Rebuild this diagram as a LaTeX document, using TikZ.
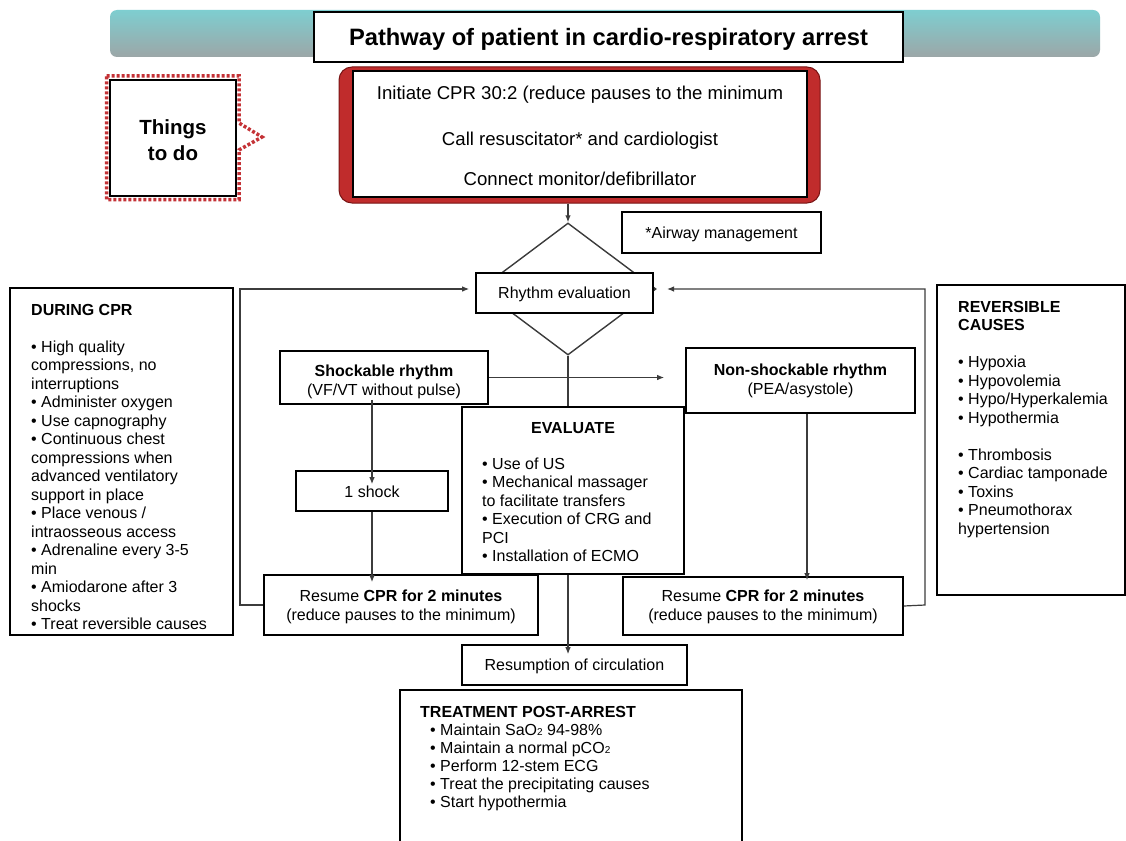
\documentclass[tikz,border=0pt]{standalone}
\usepackage{fontspec}
\setmainfont{Liberation Sans}
\usetikzlibrary{arrows.meta,shapes.geometric}
\definecolor{redbox}{RGB}{192,44,44}
\definecolor{reddark}{RGB}{120,20,20}
\definecolor{tealtop}{RGB}{126,206,208}
\definecolor{graybot}{RGB}{156,166,167}
\definecolor{linec}{RGB}{60,60,60}
\definecolor{dotred}{RGB}{196,50,54}
\begin{document}
\begin{tikzpicture}[x=1pt,y=-1pt,
  box/.style={draw=black,line width=1.6pt,fill=white,rectangle,inner sep=0pt},
  conn/.style={draw=linec,line width=1.2pt},
  arr/.style={conn,-{Latex[length=7pt,width=5.5pt]}},
  txt/.style={inner sep=0pt,font=\fontsize{16}{18.5}\selectfont},
  btxt/.style={inner sep=0pt,font=\fontsize{16}{18.5}\selectfont\bfseries},
]
\useasboundingbox (0,0) rectangle (1126,840);
\fill[white] (0,0) rectangle (1126,840);

% banner
\shade[top color=tealtop,bottom color=graybot,rounded corners=7pt] (110,10) rectangle (1100,57);
\node[box,minimum width=589,minimum height=50] (title) at (608.5,37) {};
\node[inner sep=0pt,anchor=base,font=\fontsize{23.7}{26}\selectfont\bfseries] (ttitle) at (608.5,46) {Pathway of patient in cardio-respiratory arrest};

% things to do
\draw[dotred,line width=3.5pt,dash pattern=on 3pt off 2pt] (106.5,76) -- (239,76) -- (239,123) -- (262,137) -- (239,150) -- (239,199.5) -- (106.5,199.5) -- cycle;
\node[box,minimum width=126,minimum height=116] (things) at (173,138) {};
\node[inner sep=0pt,anchor=base,align=center,font=\fontsize{20.5}{25}\selectfont\bfseries] (tthings) at (173,160) {Things\\to do};

% red box
\node[draw=reddark,line width=1pt,fill=redbox,rounded corners=13pt,minimum width=481,minimum height=136,inner sep=0pt] (red) at (579.5,135) {};
\node[box,minimum width=454,minimum height=126] (todo) at (580,134) {};
\node[inner sep=0pt,anchor=base,font=\fontsize{18.6}{20}\selectfont] (l1) at (580,100) {Initiate CPR 30:2 (reduce pauses to the minimum};
\node[inner sep=0pt,anchor=base,font=\fontsize{18.6}{20}\selectfont] (l2) at (580,145) {Call resuscitator* and cardiologist};
\node[inner sep=0pt,anchor=base,font=\fontsize{18.6}{20}\selectfont] (l3) at (580,185) {Connect monitor/defibrillator};

% airway
\node[box,minimum width=199,minimum height=41] (airway) at (721.5,232.5) {};
\node[txt,anchor=base] (tairway) at (721.5,238) {*Airway management};

% diamond + rhythm evaluation
\node[draw=linec,line width=1.4pt,diamond,minimum width=176,minimum height=132,inner sep=0pt] (diam) at (568,289) {};
\node[box,minimum width=177,minimum height=40] (rhythm) at (564.5,293) {};
\node[txt,anchor=base] (trhythm) at (564.5,298) {Rhythm evaluation};
\draw[arr] (red.south -| diam.north) -- (diam.north);

% during CPR
\node[box,minimum width=223,minimum height=347] (during) at (121.5,461.5) {};
\node[txt,anchor=base west,align=left] (tduring) at (31,629.5) {\textbf{DURING CPR}\\[18.5pt]%
• High quality\\compressions, no\\interruptions\\• Administer oxygen\\• Use capnography\\• Continuous chest\\compressions when\\advanced ventilatory\\support in place\\• Place venous /\\intraosseous access\\• Adrenaline every 3-5\\min\\• Amiodarone after 3\\shocks\\• Treat reversible causes};

% reversible causes
\node[box,minimum width=188,minimum height=310] (rev) at (1031,440) {};
\node[txt,anchor=base west,align=left] (trev) at (958,534) {\textbf{REVERSIBLE}\\\textbf{CAUSES}\\[18.5pt]%
• Hypoxia\\• Hypovolemia\\• Hypo/Hyperkalemia\\• Hypothermia\\[18.5pt]• Thrombosis\\• Cardiac tamponade\\• Toxins\\• Pneumothorax\\hypertension};

% shockable / non-shockable
\node[box,minimum width=208,minimum height=53] (shock) at (384,377.5) {};
\node[txt,anchor=base,align=center] (tshock) at (384,395) {\textbf{Shockable rhythm}\\(VF/VT without pulse)};
\node[box,minimum width=229,minimum height=65] (nonshock) at (800.5,380.5) {};
\node[txt,anchor=base,align=center] (tnonshock) at (800.5,394) {\textbf{Non-shockable rhythm}\\(PEA/asystole)};

% evaluate
\node[box,minimum width=222,minimum height=167] (eval) at (573,490.5) {};
\node[btxt,anchor=base] (teval) at (573,433) {EVALUATE};
\node[txt,anchor=base west,align=left] (tevalitems) at (482,561.5) {• Use of US\\• Mechanical massager\\to facilitate transfers\\• Execution of CRG and\\PCI\\• Installation of ECMO};

% one shock
\node[box,minimum width=152,minimum height=40] (oneshock) at (372,491) {};
\node[txt,anchor=base] (toneshock) at (372,497) {1 shock};

% resume boxes
\node[box,minimum width=274,minimum height=60] (lres) at (401,605) {};
\node[txt,anchor=base,align=center] (tlres) at (401,620) {Resume \textbf{CPR for 2 minutes}\\(reduce pauses to the minimum)};
\node[box,minimum width=280,minimum height=58] (rres) at (763,606) {};
\node[txt,anchor=base,align=center] (trres) at (763,620) {Resume \textbf{CPR for 2 minutes}\\(reduce pauses to the minimum)};

% resumption
\node[box,minimum width=225,minimum height=40] (resump) at (574.5,665) {};
\node[txt,anchor=base] (tresump) at (574.5,670) {Resumption of circulation};

% treatment
\node[box,minimum width=342,minimum height=160] (treat) at (571,770) {};
\node[btxt,anchor=base west] (ttreat) at (420,717) {TREATMENT POST-ARREST};
\node[inner sep=0pt,font=\fontsize{16}{18}\selectfont,anchor=base west,align=left] (ttreatitems) at (430,807) {• Maintain SaO{\fontsize{10}{10}\selectfont 2} 94-98\%\\• Maintain a normal pCO{\fontsize{10}{10}\selectfont 2}\\• Perform 12-stem ECG\\• Treat the precipitating causes\\• Start hypothermia};

% connectors
\draw[conn] (diam.south) -- (eval.north -| diam.south);
\draw[arr] (shock.east) -- ([xshift=-21pt]nonshock.west |- shock.east);
\draw[arr] ([yshift=5pt]shock.south -| oneshock.north) -- ([yshift=-14pt]oneshock.north);
\draw[arr] (oneshock.south) -- ([yshift=-8pt]oneshock.south |- lres.north);
\draw[arr] (nonshock.south -| 807,0) -- ([yshift=-4pt]rres.north -| 807,0);
\draw[arr] (eval.south -| diam.south) -- ([yshift=-10pt]resump.north -| diam.south);
\draw[arr] (lres.west) -- (240,605) -- (240,289) -- ([xshift=-6pt]rhythm.west |- 0,289);
\draw[arr] (rres.east) -- (925,605) -- (925,289) -- (667,289);
\end{tikzpicture}
\end{document}
